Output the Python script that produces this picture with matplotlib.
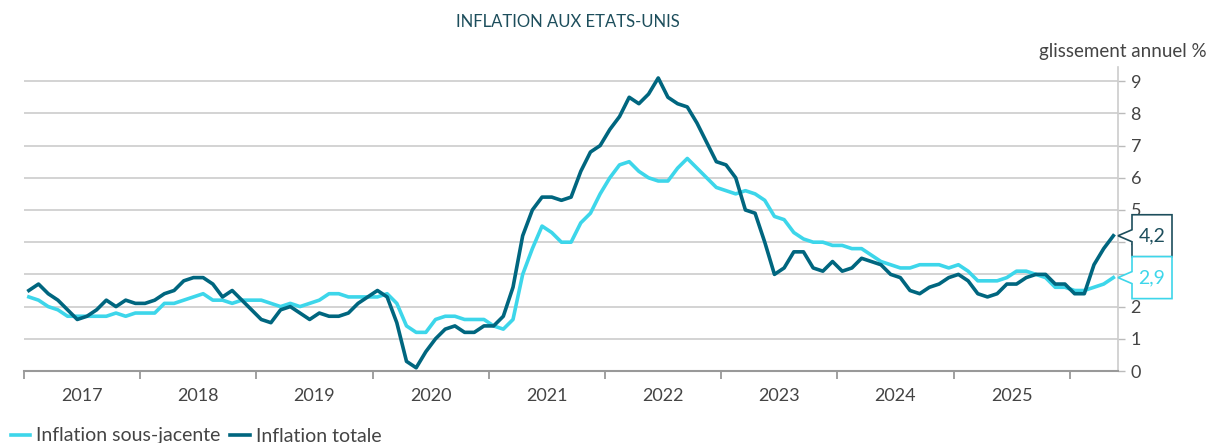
import matplotlib
matplotlib.use("Agg")
import matplotlib.pyplot as plt
from matplotlib.patches import Polygon
from matplotlib.transforms import IdentityTransform

# monthly year-on-year rates, Jan 2017 -> May 2026
START_YEAR = 2017
headline = [
    2.5, 2.7, 2.4, 2.2, 1.9, 1.6, 1.7, 1.9, 2.2, 2.0, 2.2, 2.1,
    2.1, 2.2, 2.4, 2.5, 2.8, 2.9, 2.9, 2.7, 2.3, 2.5, 2.2, 1.9,
    1.6, 1.5, 1.9, 2.0, 1.8, 1.6, 1.8, 1.7, 1.7, 1.8, 2.1, 2.3,
    2.5, 2.3, 1.5, 0.3, 0.1, 0.6, 1.0, 1.3, 1.4, 1.2, 1.2, 1.4,
    1.4, 1.7, 2.6, 4.2, 5.0, 5.4, 5.4, 5.3, 5.4, 6.2, 6.8, 7.0,
    7.5, 7.9, 8.5, 8.3, 8.6, 9.1, 8.5, 8.3, 8.2, 7.7, 7.1, 6.5,
    6.4, 6.0, 5.0, 4.9, 4.0, 3.0, 3.2, 3.7, 3.7, 3.2, 3.1, 3.4,
    3.1, 3.2, 3.5, 3.4, 3.3, 3.0, 2.9, 2.5, 2.4, 2.6, 2.7, 2.9,
    3.0, 2.8, 2.4, 2.3, 2.4, 2.7, 2.7, 2.9, 3.0, 3.0, 2.7, 2.7,
    2.4, 2.4, 3.3, 3.8, 4.2,
]
core = [
    2.3, 2.2, 2.0, 1.9, 1.7, 1.7, 1.7, 1.7, 1.7, 1.8, 1.7, 1.8,
    1.8, 1.8, 2.1, 2.1, 2.2, 2.3, 2.4, 2.2, 2.2, 2.1, 2.2, 2.2,
    2.2, 2.1, 2.0, 2.1, 2.0, 2.1, 2.2, 2.4, 2.4, 2.3, 2.3, 2.3,
    2.3, 2.4, 2.1, 1.4, 1.2, 1.2, 1.6, 1.7, 1.7, 1.6, 1.6, 1.6,
    1.4, 1.3, 1.6, 3.0, 3.8, 4.5, 4.3, 4.0, 4.0, 4.6, 4.9, 5.5,
    6.0, 6.4, 6.5, 6.2, 6.0, 5.9, 5.9, 6.3, 6.6, 6.3, 6.0, 5.7,
    5.6, 5.5, 5.6, 5.5, 5.3, 4.8, 4.7, 4.3, 4.1, 4.0, 4.0, 3.9,
    3.9, 3.8, 3.8, 3.6, 3.4, 3.3, 3.2, 3.2, 3.3, 3.3, 3.3, 3.2,
    3.3, 3.1, 2.8, 2.8, 2.8, 2.9, 3.1, 3.1, 3.0, 2.9, 2.6, 2.6,
    2.5, 2.5, 2.6, 2.7, 2.9,
]
year_labels = list(range(2017, 2026))
y_ticks = list(range(0, 10))

CORE_COLOR = "#3dd6ea"
HEAD_COLOR = "#00667f"
TEXT_COLOR = "#444444"

plt.rcParams['font.family'] = ['Lato', 'DejaVu Sans']

W, H = 1210, 443
fig = plt.figure(figsize=(W / 100, H / 100), dpi=100)
ax = fig.add_axes([24 / W, 72 / H, (1118 - 24) / W, (371 - 67) / H])

x = [START_YEAR + (i + 0.5) / 12 for i in range(len(headline))]
ax.plot(x, core, color=CORE_COLOR, lw=2.6, label="Inflation sous-jacente", zorder=3)
ax.plot(x, headline, color=HEAD_COLOR, lw=2.6, label="Inflation totale", zorder=4)

ax.set_xlim(START_YEAR, 2026.415)
ax.set_ylim(0, 9.44)

# y axis on the right
ax.set_yticks(y_ticks)
ax.yaxis.tick_right()
ax.yaxis.grid(True, color="#cccccc", lw=1.2, zorder=0)
ax.tick_params(axis="y", length=5, width=1, color="#bbbbbb", pad=4,
               labelsize=13, labelcolor=TEXT_COLOR)

# x axis: ticks at year boundaries, labels in the middle of the year
ax.set_xticks(list(range(2017, 2027)))
ax.set_xticklabels([])
ax.set_xticks([y + 0.5 for y in year_labels], minor=True)
ax.set_xticklabels([str(y) for y in year_labels], minor=True)
ax.tick_params(axis="x", which="major", length=6, width=1.3, color="#999999")
ax.tick_params(axis="x", which="minor", length=0, pad=12,
               labelsize=13, labelcolor=TEXT_COLOR)

for side in ("top", "left"):
    ax.spines[side].set_visible(False)
ax.spines["right"].set_color("#cccccc")
ax.spines["right"].set_linewidth(1.2)
ax.spines["bottom"].set_color("#999999")
ax.spines["bottom"].set_linewidth(1.5)

fig.text(568 / W, 1 - 22 / H, "INFLATION AUX ETATS-UNIS", ha="center", va="center",
         fontsize=12, color="#1d4e5c")
fig.text(1207 / W, 1 - 52 / H, "glissement annuel %", ha="right", va="center",
         fontsize=13.5, color=TEXT_COLOR)

# last-value callouts
xmax = ax.get_xlim()[1]
for val, col in ((headline[-1], "#1d4e5c"), (core[-1], CORE_COLOR)):
    tx, ty = ax.transData.transform((xmax, val))
    verts = [(tx + 14, ty + 21), (tx + 54, ty + 21), (tx + 54, ty - 21),
             (tx + 14, ty - 21), (tx + 14, ty - 6), (tx, ty), (tx + 14, ty + 6)]
    fig.add_artist(Polygon(verts, closed=True, facecolor="white", edgecolor=col,
                           lw=1.2, transform=IdentityTransform()))
    fig.text(tx + 34, ty, f"{val:.1f}".replace(".", ","), ha="center", va="center",
             fontsize=14, color=col, transform=IdentityTransform())

fig.legend(loc="center left", bbox_to_anchor=(11 / W, 7 / H), ncol=2, frameon=False,
           fontsize=14, handlelength=1.0, handletextpad=0.3, columnspacing=0.5,
           borderpad=0, borderaxespad=0, labelcolor=TEXT_COLOR)

fig.savefig("out.png", dpi=100)
